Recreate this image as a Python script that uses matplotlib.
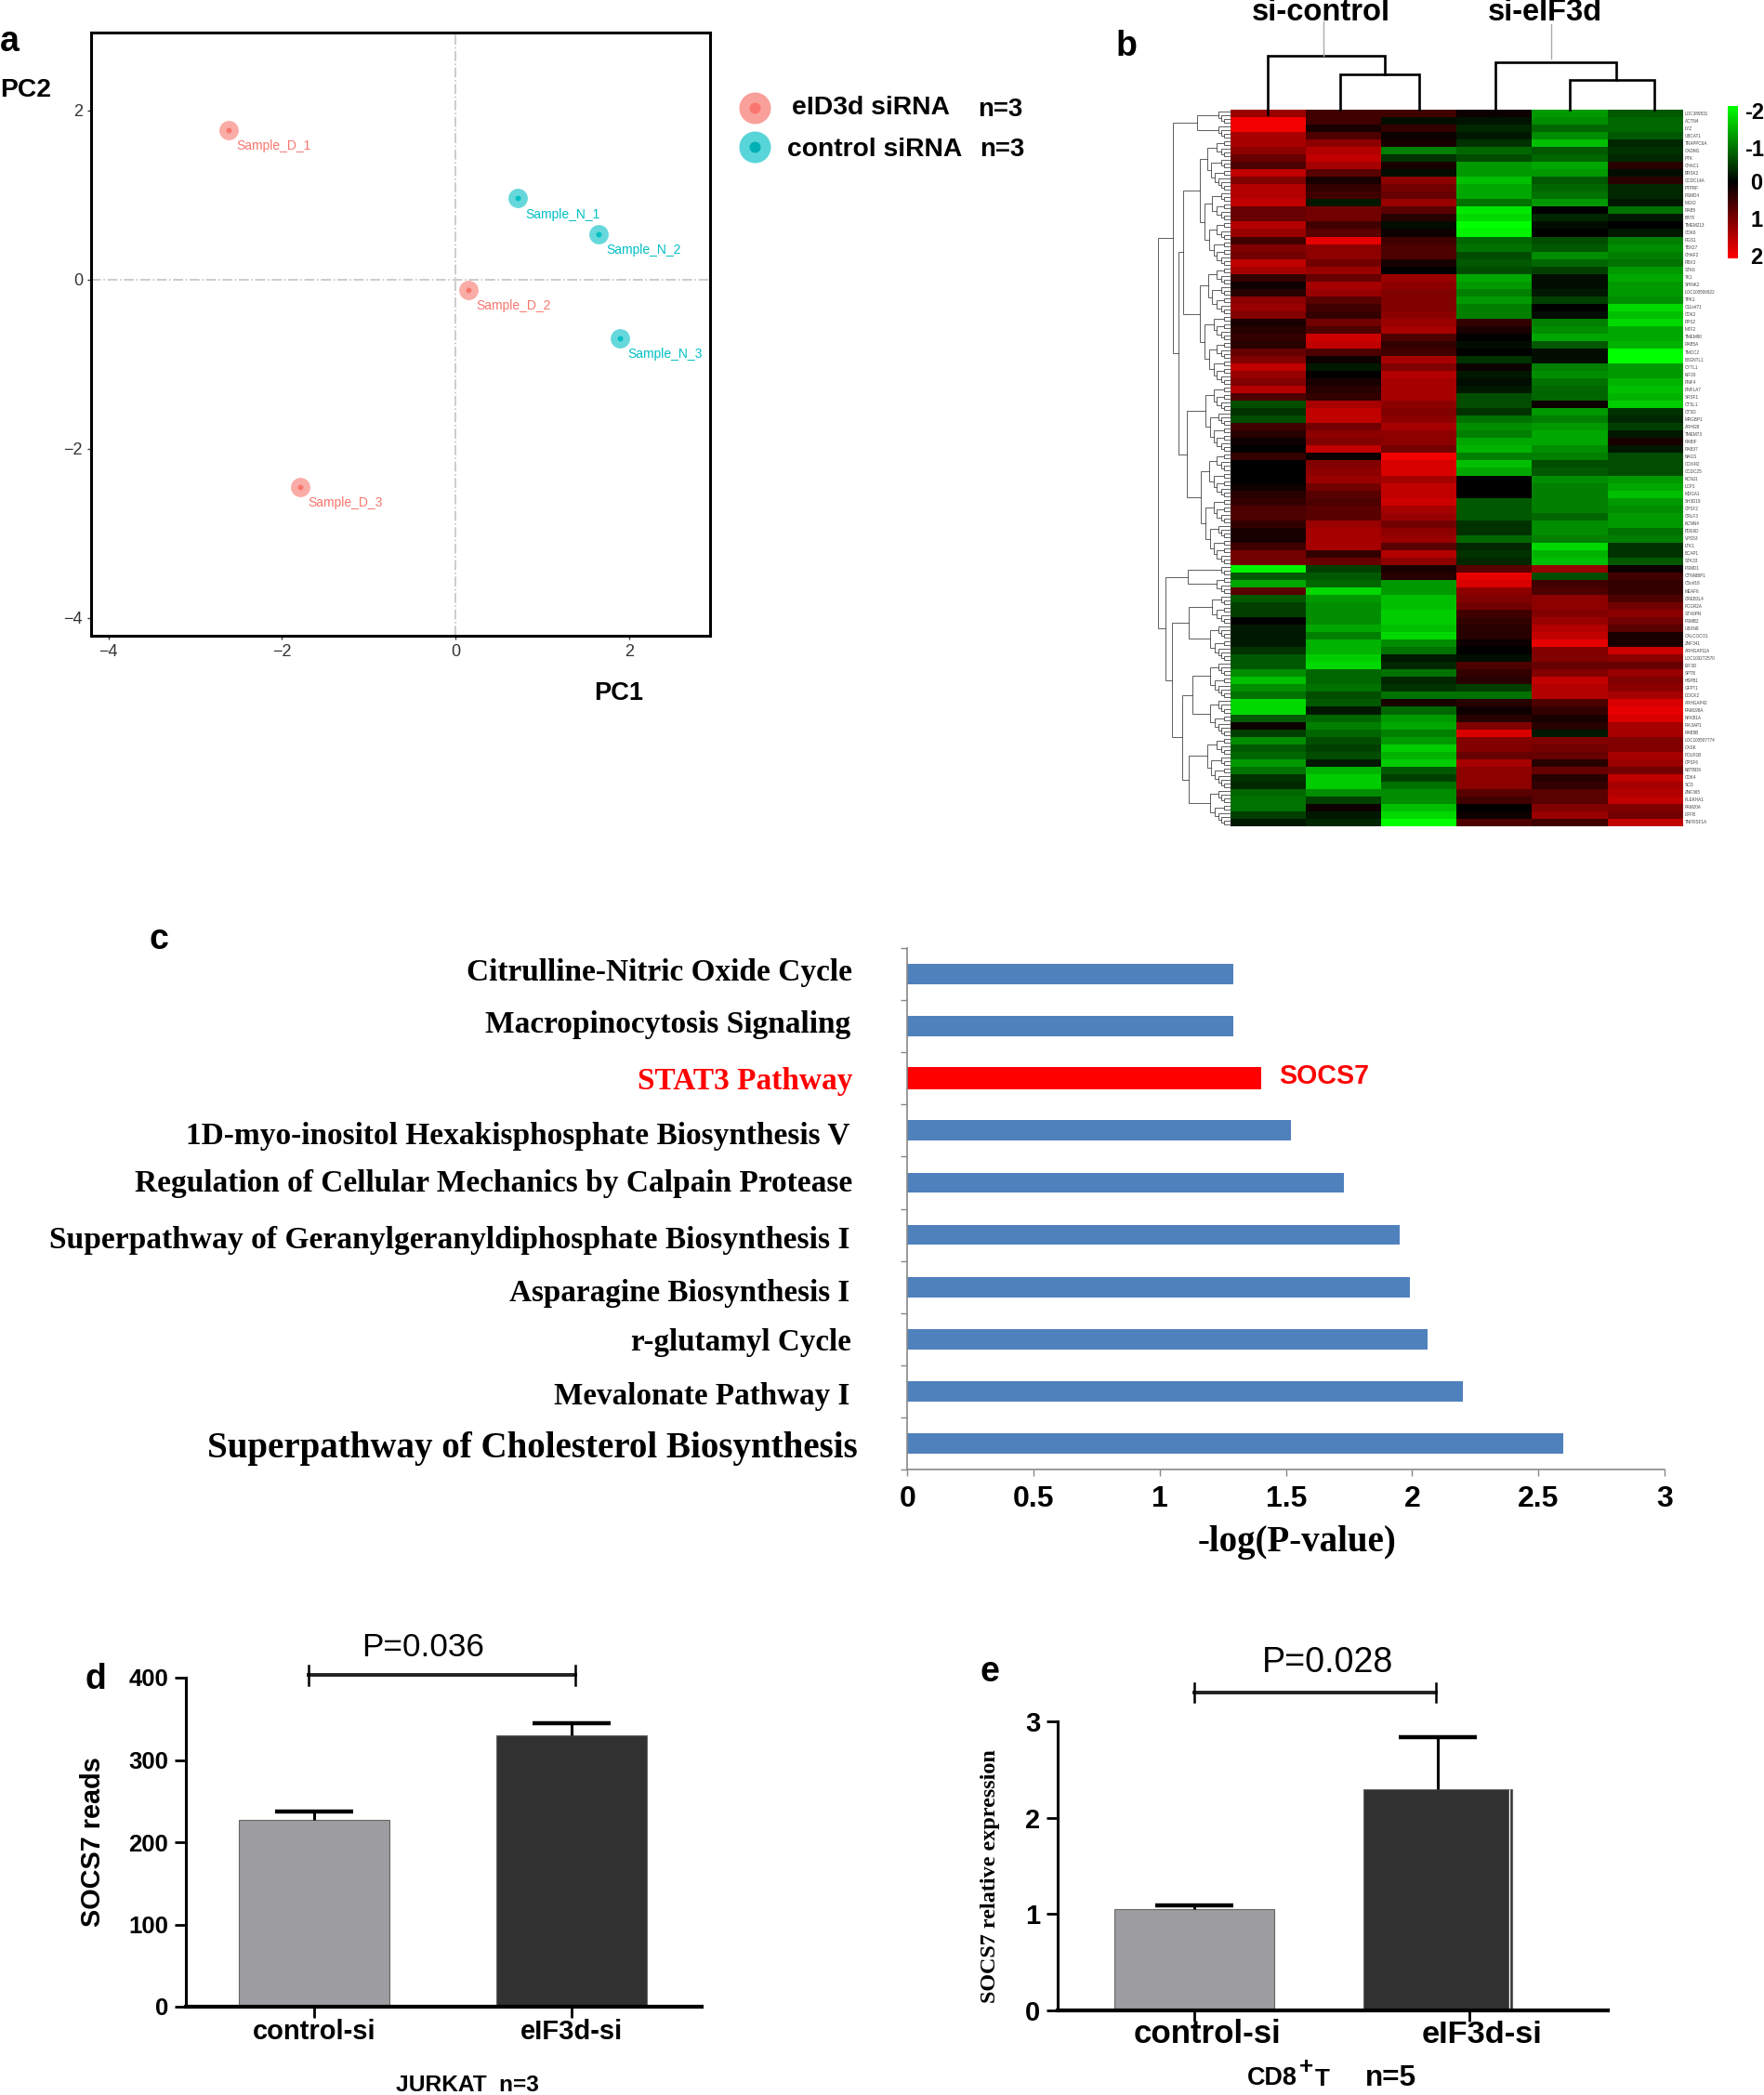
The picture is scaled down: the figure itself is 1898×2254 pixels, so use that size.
import math
import numpy as np
import matplotlib
matplotlib.use("Agg")
import matplotlib.pyplot as plt
from matplotlib.colors import LinearSegmentedColormap

W, H = 1899, 2254
SANS = "Liberation Sans"
SERIF = "Liberation Serif"

# ---------- panel a ----------
sample_names = ["Sample_D_1", "Sample_D_2", "Sample_D_3", "Sample_N_1", "Sample_N_2", "Sample_N_3"]
pc1 = [-2.62, 0.15, -1.79, 0.71, 1.65, 1.89]
pc2 = [1.77, -0.12, -2.45, 0.96, 0.54, -0.69]
sample_group = ["D", "D", "D", "N", "N", "N"]

# ---------- panel b (rows top to bottom, columns left to right) ----------
col_1 = [1.2,1.9,1.9,1.3,1.3,1.1,.8,.6,1.5,1.0,1.4,1.4,1.5,.8,.8,1.4,1.2,.5,1,.9,1.5,1.3,.4,.1,
         .3,1.1,1.2,1.0,.2,.3,.4,.3,.8,1.0,1.5,1.2,1.0,1.4,.6,-.6,-.4,-.6,.5,.3,.1,0,.4,0,
         0,0,.1,.3,.4,.6,.6,.4,.2,.2,.5,.9,.9,-1.9,-.7,-1.3,.7,-.7,-.5,-.5,0,-.2,-.2,-.2,-.4,
         -.7,-.7,-1.1,-1.5,-1.1,-.9,-1.7,-1.7,-.7,.1,-.5,-1.1,-.7,-.8,-1.2,-.9,-.4,-.3,-.8,-.9,-.9,-.5,-.2]
col_2 = [.5,.5,.2,.6,1.1,1.4,1.5,1.3,.7,.2,.4,.5,-.2,.9,.9,.5,.7,1.8,1.1,1.1,.9,1.2,.8,1.3,
         1.2,.7,.5,.4,.9,.6,1.6,1.5,.6,.1,-.2,0,.2,.3,.4,1.3,1.5,1.5,.9,1.1,1.0,1.5,.1,1.0,
         1.1,1.2,.9,.7,.6,.7,.7,1.2,1.3,1.3,1.3,.4,.8,-.5,-.7,-.8,-1.7,-1.2,-1.1,-1.1,-1.1,-1.3,-1.0,-1.4,-1.4,
         -1.6,-1.7,-.8,-.8,-.9,-.6,-.7,-.2,-.8,-1.0,-.8,-.6,-.5,-.6,-.2,-1.4,-1.6,-1.6,-1.1,-.5,.1,-.2,-.3]
col_3 = [.5,-.1,.4,.1,.2,-1.0,-.4,.2,-.1,1.1,.9,.8,1.2,.7,.3,-.1,.1,.5,.6,.6,.2,0,1.2,1.1,
         1.0,1.0,1.0,1.1,1.2,1.3,.6,.4,.5,1.3,1.0,1.4,1.3,1.3,1.3,1.1,1.0,1.1,1.3,1.1,1.1,.9,1.9,1.7,
         1.7,1.3,1.5,1.5,1.6,1.3,1.2,.9,1.1,1.2,.7,1.4,1.1,.2,.3,-1.2,-1.2,-1.5,-1.5,-1.6,-1.6,-1.5,-1.7,-1.1,-.9,
         -.2,-.3,-.9,-.3,-.4,-.9,.2,-.8,-1.2,-1.3,-1.0,-1.2,-1.6,-1.4,-1.6,-.7,-.5,-.9,-1.1,-1.1,-1.5,-1.7,-2]
col_4 = [.1,-.15,-.3,-.2,-.4,-.8,-.6,-1.2,-1.2,-1.5,-1.3,-1.3,-.9,-1.8,-1.7,-2,-1.9,-.8,-.9,-.6,-.7,-.6,-1.3,-1.2,
         -1.0,-1.2,-1.0,-1,.4,.2,0,-.1,0,-.4,.1,-.2,-.1,-.2,-.6,-.6,-.4,-.9,-1.1,-1.0,-1.3,-1.4,-1.0,-1.5,
         -1.3,0,0,0,-.7,-.7,-.7,-.4,-.4,-.8,-.3,-.4,-.3,.7,1.8,1.7,1.1,1.0,.9,.5,.4,.3,.3,.1,0,
         -.1,.6,.4,.3,-.5,-.9,.3,.1,.3,1.0,1.7,1.0,1.0,.8,1.3,1.1,1.1,1.1,.7,.5,0,.1,.6]
col_5 = [-1.2,-1.1,-.8,-1.1,-1.5,-.7,-.8,-1.3,-1.2,-.7,-.8,-.9,-1.2,0,-.3,-.1,0,-.6,-.7,-1.1,-.8,-.5,-.1,-.1,
         -.2,-.5,0,-.1,-1.0,-1.1,-1.3,-.7,-.1,-.1,-1.0,-1.1,-.9,-.8,-.8,.1,-1.2,-1,-1.2,-1.3,-1.3,-1.1,-1.0,-.6,
         -.7,-1.1,-1.0,-1.0,-1,-1,-.8,-1.1,-1.1,-1,-1.7,-1.4,-1.5,1.2,-.6,.5,.6,1.1,1.1,1.0,1.2,1.4,1.5,1.8,1.0,
         1.0,.8,1.0,1.5,1.4,1.4,.6,.4,.2,.3,-.2,1.0,.9,.8,.3,.8,.3,.4,.7,.7,1.0,1.2,.5]
col_6 = [-.7,-.8,-.8,-.7,-.3,-.4,-.3,.3,-.1,.3,-.3,-.3,-.2,-.9,-.2,0,-.2,-1,-1.1,-1,-.9,-1.2,-1.3,-1.2,
         -1.2,-1.1,-1.7,-1.5,-1.7,-1.3,-1.3,-1.4,-2,-2,-1.2,-1.2,-1.4,-1.5,-1.4,-1.6,-.4,-.3,-.5,-.2,.2,-.2,-.6,-.6,
         -.6,-1.2,-1.3,-1.5,-1.2,-1.1,-1.2,-1.2,-.9,-1,-.4,-.4,-.7,.1,.5,.4,.4,.6,.9,1.1,.9,.7,.2,.2,1.6,
         1.1,.8,1.2,1.0,1.1,1.3,1.7,1.8,1.7,1.3,1.3,1.0,1.0,1.3,1.2,.9,1.5,1.3,1.4,1.5,1.0,.9,1.5]
gene_labels = ["LOC389831","ACTN4","LYZ","UBCAT1","TRAPPC6A","CADM1","PTK","CHAC1","BRSK2","CCDC14A","PTPRF","PSMD4",
  "MSX2","RAB5","BATF","TMEM213","CDK6","RGS1","TBX27","CHAF2","RBX3","STK6","TK1","SPINK2","LOC100506922","TPK1",
  "C11orf71","CDK2","RPS2","MTF2","TMEM80","RAB5A","TMCC2","B3GNTL1","CYTL1","KIF20","RNF4","RNFLA7","SRSF1","CTSL1",
  "CTSD","MRGBP1","ARHGB","TMEM73","RABIF","RAB37","NAGS","COX4I2","CCDC25","KCNJ1","LCP1","MDGA1","SH3D19","CPSF2",
  "CRLF3","KCNN4","PDE6D","VPS53","LTK1","BCAP1","STK33","PSMD1","CTNNBIP1","C5orf18","MEAF6","CREB3L4","FCGR2A",
  "STX6PN","PSMB2","UBXN8","CALCOCO1","ZNF341","ARHGAP11A","LOC100272570","EIF3D","SPTB","HSPB1","GFPT1","DOCK2",
  "ARHGAP42","FAM198A","NFKB1A","PIK3AP1","RAB8B","LOC100507774","CASK","POLR1B","CPSF6","KBTBD6","CDK4","SCD","ZNF365",
  "PLEKHA1","FAM20A","DFFB","TNFRSF1A"]

# ---------- panel c ----------
pathways = ["Citrulline-Nitric Oxide Cycle", "Macropinocytosis Signaling", "STAT3 Pathway",
            "1D-myo-inositol Hexakisphosphate Biosynthesis V",
            "Regulation of Cellular Mechanics by Calpain Protease",
            "Superpathway of Geranylgeranyldiphosphate Biosynthesis I",
            "Asparagine Biosynthesis I", "r-glutamyl Cycle", "Mevalonate Pathway I",
            "Superpathway of Cholesterol Biosynthesis"]
log_p = [1.29, 1.29, 1.40, 1.52, 1.73, 1.95, 1.99, 2.06, 2.20, 2.60]
c_xticks = [0, 0.5, 1, 1.5, 2, 2.5, 3]
c_xticklabels = ["0", "0.5", "1", "1.5", "2", "2.5", "3"]

# ---------- panels d, e ----------
d_labels = ["control-si", "eIF3d-si"]
d_values = [227, 330]
d_errors = [10, 15]
e_labels = ["control-si", "eIF3d-si"]
e_values = [1.05, 2.30]
e_errors = [0.04, 0.54]

fig = plt.figure(figsize=(W / 100, H / 100), dpi=100, facecolor="white")
plt.rcParams["font.family"] = [SANS, "DejaVu Sans"]

def axpx(l, t, r, b, **kw):
    return fig.add_axes([l / W, 1 - b / H, (r - l) / W, (b - t) / H], **kw)

ov = fig.add_axes([0, 0, 1, 1], zorder=20)
ov.set_xlim(0, W)
ov.set_ylim(H, 0)
ov.axis("off")
ov.patch.set_alpha(0)
renderer = fig.canvas.get_renderer()

def label(x, y, s, width=None, size=10, ha="center", va="center", weight="normal",
          family=SANS, color="black", rotation=0):
    t = ov.text(x, y, s, ha=ha, va=va, fontsize=size, fontweight=weight, family=family,
                color=color, rotation=rotation)
    if width:
        bb = t.get_window_extent(renderer)
        cur = bb.height if rotation == 90 else bb.width
        t.set_fontsize(size * width / cur)
    return t

def upper_errorbar(ax, xs, vals, errs):
    cont = ax.errorbar(xs, vals, yerr=[[0] * len(errs), errs], fmt="none", ecolor="black",
                       elinewidth=2.2, capsize=30, capthick=3.2)
    cont[1][0].set_visible(False)

# panel letters
for (x, y, s) in [(10, 45, "a"), (1212, 50, "b"), (171, 1011, "c"), (103, 1807, "d"), (1065, 1799, "e")]:
    label(x, y, s, size=27, weight="bold")

# ---------------- panel a ----------------
PINK, TEAL = "#F8766D", "#00BFC4"
a = axpx(98, 35, 764, 684)
a.set_xlim(-4.2, 2.93)
a.set_ylim(-4.21, 2.92)
a.axhline(0, color="#C4C4C4", lw=1.2, ls="-.")
a.axvline(0, color="#C4C4C4", lw=1.2, ls="-.")
for n, x, y, g in zip(sample_names, pc1, pc2, sample_group):
    col = PINK if g == "D" else TEAL
    a.scatter([x], [y], s=225, color=col, alpha=0.6, linewidths=0, zorder=3)
    a.scatter([x], [y], s=18, color=col, linewidths=0, zorder=4)
    a.annotate(n, (x, y), xytext=(6, -12.6), textcoords="offset points", fontsize=10,
               color=col, ha="left", va="center")
a.set_xticks([-4, -2, 0, 2])
a.set_yticks([-4, -2, 0, 2])
a.set_xticklabels(["\u22124", "\u22122", "0", "2"])
a.set_yticklabels(["\u22124", "\u22122", "0", "2"])
a.tick_params(labelsize=13, length=3, width=1, colors="#333333")
for sp in a.spines.values():
    sp.set_linewidth(2.2)
label(28, 97, "PC2", width=55, size=16, weight="bold")
label(666, 746, "PC1", width=53, size=16, weight="bold")
for yy, outer, inner in [(116, "#F9A09A", PINK), (158, "#58D5D8", "#00B0B4")]:
    ov.scatter([812], [yy], s=600, color=outer, linewidths=0)
    ov.scatter([812], [yy], s=75, color=inner, linewidths=0)
label(937, 116, "eID3d siRNA", width=170, size=16, weight="bold")
label(1076, 118, "n=3", width=48, size=16, weight="bold")
label(941, 161, "control siRNA", width=188, size=16, weight="bold")
label(1078, 161, "n=3", width=48, size=16, weight="bold")

# ---------------- panel b ----------------
gbr = LinearSegmentedColormap.from_list("gbr", [(0, 1, 0), (0, 0, 0), (1, 0, 0)])
matrix = np.array([col_1, col_2, col_3, col_4, col_5, col_6]).T
HL, HT, HR, HB = 1324, 118, 1811, 889
h = axpx(HL, HT, HR, HB)
h.imshow(matrix, cmap=gbr, vmin=-2, vmax=2, aspect="auto", interpolation="nearest")
h.axis("off")
rowh = (HB - HT) / len(col_1)
for i, g in enumerate(gene_labels):
    label(HR + 2, HT + (i + 0.5) * rowh, g, size=3.3, ha="left", color="#444444")

cb = axpx(1859, 114, 1870, 278)
cb.imshow(np.linspace(-2, 2, 256)[:, None], cmap=gbr, vmin=-2, vmax=2, aspect="auto")
cb.axis("off")
for x, y, s in [(1877, 122, "-2"), (1877, 162, "-1"), (1883, 198, "0"), (1884, 237, "1"), (1883, 277, "2")]:
    label(x, y, s, size=17, weight="bold", ha="left")

# column dendrogram
for xs, ys in [([1364, 1364, 1490, 1490], [123, 60, 60, 80]),
               ([1442, 1442, 1527, 1527], [118, 80, 80, 118]),
               ([1609, 1609, 1739, 1739], [122, 67, 67, 86]),
               ([1689, 1689, 1780, 1780], [118, 86, 86, 118])]:
    ov.plot(xs, ys, color="black", lw=1.9, solid_joinstyle="miter")
ov.plot([1424, 1424], [23, 60], color="#AAAAAA", lw=1)
ov.plot([1669, 1669], [26, 63], color="#AAAAAA", lw=1)
label(1421, 14, "si-control", width=149, size=22, weight="bold")
label(1662, 14, "si-eIF3d", width=123, size=22, weight="bold")

# row dendrogram (leaves are half rows)
N_LEAF = 192
node_table = {(0, 192): (122, 1246), (0, 122): (8, 1262), (0, 8): (4, 1288), (8, 122): (74, 1268),
              (8, 74): (42, 1273), (74, 122): (92, 1277), (122, 192): (130, 1254), (122, 130): (125, 1278),
              (130, 192): (148, 1261), (130, 148): (138, 1279), (148, 192): (168, 1272),
              (148, 168): (158, 1283), (168, 192): (182, 1279)}

def tree(lo, hi):
    n = hi - lo
    if n == 1:
        return HT + (lo + 0.5) * (HB - HT) / N_LEAF, HL
    split, x = node_table.get((lo, hi), (lo + max(1, int(n * 0.42)), HL - 6.5 * math.log2(n)))
    y1, x1 = tree(lo, split)
    y2, x2 = tree(split, hi)
    ov.plot([x1, x, x, x2], [y1, y1, y2, y2], color="#444444", lw=0.6, solid_joinstyle="miter")
    return (y1 + y2) / 2, x

tree(0, N_LEAF)

# ---------------- panel c ----------------
c = axpx(976.4, 1020, 1791, 1581)
ypos = np.arange(len(pathways))
colors = ["#FF0000" if p == "STAT3 Pathway" else "#4F81BD" for p in pathways]
heights = [0.43 if p == "STAT3 Pathway" else 0.39 for p in pathways]
c.barh(ypos, log_p, height=heights, color=colors)
c.set_ylim(len(pathways) - 0.5, -0.5)
c.set_xlim(0, 3)
c.set_yticks(np.arange(-0.5, len(pathways)))
c.set_yticklabels([])
c.set_xticks(c_xticks)
c.set_xticklabels(c_xticklabels, fontweight="bold", fontsize=23)
c.tick_params(axis="x", length=5, width=1, color="#888888", pad=7)
c.tick_params(axis="y", length=5, width=1, color="#888888")
for k in ("top", "right"):
    c.spines[k].set_visible(False)
for k in ("left", "bottom"):
    c.spines[k].set_color("#888888")
    c.spines[k].set_linewidth(1.2)
S = 1.4375
lab_pos = [(726, 349, 638), (765, 364, 637), (807, 477, 638), (848, 140, 636), (884, 102, 638),
           (926, 39, 636), (966, 381, 636), (1003, 472, 637), (1043, 415, 636), (1082, 155, 642)]
for p, (yy, x0, x1) in zip(pathways, lab_pos):
    label(x1 * S, yy * S + 3, p, width=(x1 - x0) * S, size=20, ha="right", weight="bold", family=SERIF,
          color="#FF0000" if p == "STAT3 Pathway" else "black")
label(1376, 1158, "SOCS7", width=97, size=18, ha="left", weight="bold", color="#FF0000")
label(1396, 1660, "-log(P-value)", width=213, size=22, weight="bold", family=SERIF)

# ---------------- panel d ----------------
d = axpx(200, 1805, 755, 2159)
d.set_xlim((200 - 338) / 277, (755 - 338) / 277)
d.set_ylim(0, 400)
d.bar([0, 1], d_values, width=0.585, color=["#9D9DA1", "#313131"], edgecolor="#666666", linewidth=0.8)
upper_errorbar(d, [0, 1], d_values, d_errors)
d.set_xticks([0, 1])
d.set_xticklabels(d_labels, fontweight="bold", fontsize=21)
d.set_yticks([0, 100, 200, 300, 400])
d.set_yticklabels(["0", "100", "200", "300", "400"], fontweight="bold", fontsize=18.5)
d.tick_params(length=8.5, width=2, pad=5)
d.tick_params(axis="x", pad=1)
for k in ("top", "right"):
    d.spines[k].set_visible(False)
d.spines["left"].set_linewidth(2.2)
d.spines["bottom"].set_linewidth(3)
d.plot([-0.023, 1.014], [403, 403], color="#222222", lw=2.8, clip_on=False)
d.plot([-0.023, -0.023], [391, 415], color="black", lw=1.8, clip_on=False)
d.plot([1.014, 1.014], [391, 415], color="black", lw=1.8, clip_on=False)
label(455, 1773, "P=0.036", width=132, size=24)
label(100, 1982, "SOCS7 reads", width=183, size=20, weight="bold", rotation=90)
label(503, 2243, "JURKAT  n=3", width=154, size=15, weight="bold")

# ---------------- panel e ----------------
e = axpx(1138, 1852, 1730, 2163)
e.set_xlim((1138 - 1285) / 262, (1730 - 1285) / 262)
e.set_ylim(0, 3)
e.bar([0, 1], e_values, width=[0.656, 0.609], color=["#9D9DA1", "#313131"], edgecolor="#666666", linewidth=0.8)
e.vlines(1.292, 0, e_values[1], color="white", lw=1)
upper_errorbar(e, [0, 1], e_values, e_errors)
e.set_xticks([0, 1.13])
e.set_xticklabels([])
e.set_yticks([0, 1, 2, 3])
e.set_yticklabels(["0", "1", "2", "3"], fontweight="bold", fontsize=21)
e.tick_params(length=8.5, width=2, pad=5)
for k in ("top", "right"):
    e.spines[k].set_visible(False)
e.spines["left"].set_linewidth(2.2)
e.spines["bottom"].set_linewidth(3)
e.plot([0, 0.992], [3.30, 3.30], color="#222222", lw=2.8, clip_on=False)
e.plot([0, 0], [3.20, 3.40], color="black", lw=1.8, clip_on=False)
e.plot([0.992, 0.992], [3.20, 3.40], color="black", lw=1.8, clip_on=False)
label(1299, 2189, e_labels[0], width=159, size=22, weight="bold")
label(1595, 2189, e_labels[1], width=130, size=22, weight="bold")
label(1429, 1789, "P=0.028", width=141, size=22)
label(1066, 2019, "SOCS7 relative expression", width=272, size=18, weight="bold", family=SERIF, rotation=90)
label(1342, 2236, "CD8", width=54, size=16, ha="left", weight="bold")
label(1398, 2224, "+", width=15, size=16, ha="left", weight="bold")
label(1415, 2237, "T", width=16, size=16, ha="left", weight="bold")
label(1469, 2236, "n=5", width=55, size=18, ha="left", weight="bold")

fig.savefig("out.png", dpi=100, facecolor="white")
